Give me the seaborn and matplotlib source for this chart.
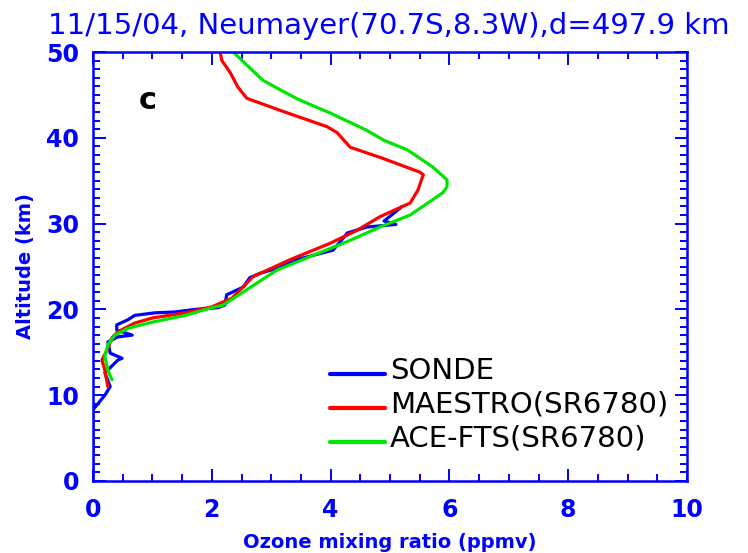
import matplotlib
matplotlib.use("Agg")
import matplotlib.pyplot as plt
import seaborn as sns
import pandas as pd
from matplotlib.ticker import MultipleLocator
from matplotlib.lines import Line2D
from matplotlib.legend_handler import HandlerLine2D

# ---- data ----
sonde_x = [0.0, 0.0, 0.0, 0.2, 0.29, 0.2, 0.42, 0.49, 0.29, 0.25, 0.42, 0.66, 0.4, 0.4,
           0.59, 0.7, 1.04, 1.38, 1.72, 2.1, 2.22, 2.25, 2.53, 2.64, 2.81, 3.15, 3.43,
           4.04, 4.2, 4.28, 4.61, 5.1, 4.9, 5.17, 5.2]
sonde_y = [0.0, 5.0, 8.3, 10.0, 11.0, 12.6, 14.1, 14.3, 14.9, 16.2, 16.8, 17.0, 17.6, 18.2,
           18.8, 19.3, 19.6, 19.7, 20.0, 20.2, 20.5, 21.7, 22.6, 23.7, 24.2, 24.9, 25.8,
           26.9, 28.2, 28.9, 29.6, 29.9, 30.3, 31.8, 32.0]

maestro_x = [0.25, 0.2, 0.15, 0.24, 0.32, 0.42, 0.7, 1.0, 1.55, 2.0, 2.34, 2.69, 3.32, 3.99,
             4.44, 4.83, 5.34, 5.47, 5.56, 5.5, 4.88, 4.33, 4.11, 3.94, 3.48, 3.15, 2.59,
             2.44, 2.31, 2.17, 2.14]
maestro_y = [11.0, 12.9, 14.1, 15.3, 16.7, 17.4, 18.4, 19.0, 19.6, 20.3, 21.3, 23.8, 25.8, 27.7,
             29.2, 30.8, 32.4, 33.9, 35.7, 36.0, 37.6, 38.9, 40.6, 41.3, 42.4, 43.2, 44.6,
             45.9, 47.6, 49.0, 50.0]

acefts_x = [0.32, 0.25, 0.2, 0.25, 0.37, 0.59, 0.99, 1.55, 2.0, 2.19, 2.59, 3.1, 3.6, 4.28,
            4.83, 5.34, 5.89, 5.96, 5.96, 5.72, 5.29, 4.9, 4.6, 3.99, 3.75, 3.45, 3.15,
            2.86, 2.36]
acefts_y = [11.8, 12.9, 14.5, 15.9, 17.0, 17.8, 18.5, 19.3, 20.2, 20.5, 22.3, 24.6, 26.0, 27.9,
            29.6, 31.0, 33.6, 34.3, 35.1, 36.6, 38.6, 39.7, 40.9, 42.9, 43.6, 44.5, 45.6,
            46.7, 50.0]

series_names = ["SONDE", "MAESTRO(SR6780)", "ACE-FTS(SR6780)"]
series_colors = ["#0000ff", "#ff0000", "#00e600"]
title_text = "11/15/04, Neumayer(70.7S,8.3W),d=497.9 km"
x_label = "Ozone mixing ratio (ppmv)"
y_label = "Altitude (km)"
x_ticks = [0, 2, 4, 6, 8, 10]
y_ticks = [0, 10, 20, 30, 40, 50]

frames = []
for name, xs, ys in zip(series_names, [sonde_x, maestro_x, acefts_x],
                        [sonde_y, maestro_y, acefts_y]):
    frames.append(pd.DataFrame({"ozone": xs, "alt": ys, "series": name,
                                "order": range(len(xs))}))
df = pd.concat(frames, ignore_index=True)

sns.set_style("white")
plt.rcParams["font.family"] = ["DejaVu Sans"]

BLUE = "#0000ff"
fig = plt.figure(figsize=(7.48, 5.53), dpi=100)
ax = fig.add_axes([93 / 748, 1 - 481 / 553, (687 - 93) / 748, (481 - 52) / 553])

for name, col in zip(series_names, series_colors):
    sub = df[df["series"] == name]
    sns.lineplot(data=sub, x="ozone", y="alt", sort=False, estimator=None,
                 color=col, linewidth=2.3, ax=ax, legend=False)

ax.set_xlim(0, 10)
ax.set_ylim(0, 50)
ax.set_xticks(x_ticks)
ax.set_yticks(y_ticks)
ax.set_xticklabels([str(t) for t in x_ticks])
ax.set_yticklabels([str(t) for t in y_ticks])
ax.xaxis.set_minor_locator(MultipleLocator(0.5))
ax.yaxis.set_minor_locator(MultipleLocator(1))
ax.tick_params(which="both", direction="in", top=True, right=True, bottom=True,
               left=True, color=BLUE, labelcolor=BLUE, width=1.4)
ax.tick_params(which="major", length=9, labelsize=17)
ax.tick_params(axis="x", which="major", pad=12)
ax.tick_params(axis="y", which="major", pad=10)
ax.tick_params(which="minor", length=5)
for lab in ax.get_xticklabels() + ax.get_yticklabels():
    lab.set_fontweight("bold")
for sp in ax.spines.values():
    sp.set_color(BLUE)
    sp.set_linewidth(1.8)
    sp.set_visible(True)

ax.set_xlabel(x_label, color=BLUE, fontsize=14, fontweight="bold", labelpad=8)
ax.set_ylabel(y_label, color=BLUE, fontsize=14, fontweight="bold", labelpad=8)
fig.text(0.52, 0.953, title_text, color=BLUE, fontsize=21, ha="center", va="center")
ax.text(0.093, 0.888, "c", transform=ax.transAxes, fontsize=22, fontweight="bold",
        color="black", ha="center", va="center")


class LowLine(HandlerLine2D):
    def create_artists(self, legend, orig_handle, xdescent, ydescent, width, height,
                       fontsize, trans):
        arts = super().create_artists(legend, orig_handle, xdescent, ydescent, width,
                                      height, fontsize, trans)
        for a in arts:
            a.set_ydata([v - 0.27 * height for v in a.get_ydata()])
        return arts


handles = [Line2D([0], [0], color=c, lw=3) for c in series_colors]
leg = ax.legend(handles, series_names, loc="upper left", bbox_to_anchor=(0.399, 0.29),
                frameon=False, fontsize=21, handlelength=1.9, handletextpad=0.15,
                labelspacing=0.2, borderpad=0, borderaxespad=0,
                handler_map={Line2D: LowLine()})
for t in leg.get_texts():
    t.set_color("black")

fig.savefig("out.png", dpi=100)
